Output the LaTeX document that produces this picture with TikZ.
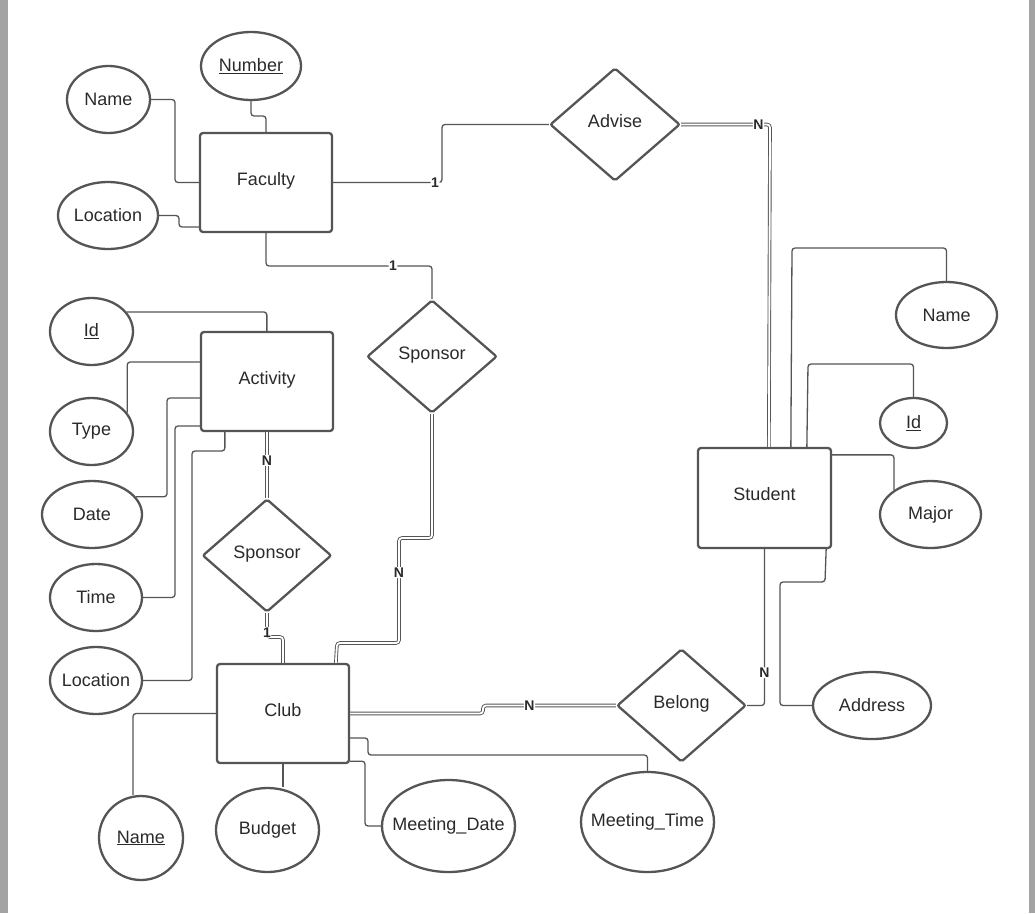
\documentclass[tikz,border=0pt]{standalone}
\usepackage{fontspec}
\setmainfont{Liberation Sans}
\usetikzlibrary{shapes.geometric}
\definecolor{ln}{HTML}{555555}
\definecolor{tx}{HTML}{2A2A2A}
\definecolor{edge}{HTML}{A3A3A3}
\begin{document}
\begin{tikzpicture}[x=1pt,y=-1pt,
 every node/.style={text=tx, font=\fontsize{18}{20}\selectfont},
 entity/.style={draw=ln, line width=2.3pt, rounded corners=3pt, minimum width=132pt, minimum height=99pt, inner sep=0pt, text height=13pt, text depth=8pt},
 rel/.style={diamond, draw=ln, line width=2.3pt, rounded corners=2pt, minimum width=130pt, minimum height=113pt, inner sep=0pt, text height=13pt, text depth=8pt},
 attr/.style={ellipse, draw=ln, line width=2.3pt, inner sep=0pt},
 wide/.style={inner xsep=-24pt},
 conn/.style={draw=ln, line width=1.3pt, rounded corners=3pt},
 dbl/.style={draw=ln, line width=0.9pt, double=white, double distance=1.8pt, rounded corners=3pt},
 card/.style={fill=white, inner sep=0.6pt, font=\bfseries\fontsize{14}{15}\selectfont}]
\useasboundingbox (0,0) rectangle (1035,913);
\fill[white] (0,0) rectangle (1035,913);
\fill[edge] (0,0) rectangle (8,913);
\fill[edge] (1029,0) rectangle (1035,913);

% entities
\node[entity] (fac) at (266,182.5) {Faculty};
\node[entity] (act) at (267,381.5) {Activity};
\node[entity] (club) at (283,713.5) {Club};
\node[entity, minimum width=133pt, minimum height=100pt] (stu) at (764.5,498) {Student};

% relationships
\node[rel] (adv) at (615,124.5) {Advise};
\node[rel] (spU) at (432,356.5) {Sponsor};
\node[rel, minimum width=129pt] (spL) at (267,555.5) {Sponsor};
\node[rel, minimum width=129pt] (bel) at (681.5,705.5) {Belong};

% attributes
\node[attr, wide, minimum width=100pt, minimum height=68pt] (num) at (251,66) {\underline{Number}};
\node[attr, minimum width=83pt, minimum height=67pt] (fname) at (108.5,99.5) {Name};
\node[attr, wide, minimum width=100pt, minimum height=67pt] (floc) at (108,215.5) {Location};
\node[attr, minimum width=83pt, minimum height=67pt] (aid) at (91.5,331.5) {\underline{Id}};
\node[attr, minimum width=83pt, minimum height=67pt] (atype) at (91.5,431.5) {Type};
\node[attr, minimum width=100pt, minimum height=67pt] (adate) at (92,514.5) {Date};
\node[attr, minimum width=92pt, minimum height=67pt] (atime) at (96,597.5) {Time};
\node[attr, wide, minimum width=92pt, minimum height=67pt] (aloc) at (96,680.5) {Location};
\node[attr, minimum width=84pt, minimum height=84pt] (cname) at (141,838) {\underline{Name}};
\node[attr, minimum width=103pt, minimum height=84pt] (cbud) at (267.5,830) {Budget};
\node[attr, wide, minimum width=133pt, minimum height=92pt] (cmd) at (448.5,826) {Meeting\_Date};
\node[attr, wide, minimum width=133pt, minimum height=100pt] (cmt) at (647.5,822) {Meeting\_Time};
\node[attr, wide, minimum width=118pt, minimum height=67pt] (saddr) at (872,705.5) {Address};
\node[attr, minimum width=101pt, minimum height=67pt] (smaj) at (930.5,514.5) {Major};
\node[attr, minimum width=101pt, minimum height=66pt] (sname) at (946.5,315) {Name};
\node[attr, minimum width=67pt, minimum height=50pt] (sid) at (913.5,423) {\underline{Id}};

% Faculty attributes
\draw[conn] (num.south) -- (251,116) -| (fac.north);
\draw[conn] (fname.east) -| (175,182.5) -- (fac.west);
\draw[conn] (floc.east) -| (179,227) -- ([yshift=-44.5pt]fac.west);

% Faculty relationships
\draw[conn] (fac.east) -- node[card,pos=0.936]{1} (442,182.5) |- (adv.west);
\draw[conn] (fac.south) -- (266,266) -- node[card,pos=0.765]{1} (432,266) -- (spU.north);
\draw[dbl] (adv.east) -- node[card,pos=0.87]{N} (770,124.5) -- ([xshift=72pt]stu.north west);

% Student attributes
\draw[conn] (sname.north) |- (792,248) -- ([xshift=94pt]stu.north west);
\draw[conn] (sid.north) |- (808,364) -- ([xshift=110pt]stu.north west);
\draw[conn] ([yshift=-8pt]stu.north east) -| (smaj.north west);
\draw[conn] ([xshift=-6pt]stu.south east) -- (825,582) -- (780,582) |- (saddr.west);
\draw[conn] (stu.south) -- node[card,pos=0.79]{N} (764.5,705.5) -- (bel.east);

% Activity attributes
\draw[conn] (aid.29) -| ([xshift=67pt]act.north west);
\draw[conn] (atype.28) |- ([yshift=19.5pt]act.west);
\draw[conn] (adate.22) -| (167,398) -- ([yshift=-16.5pt]act.west);
\draw[conn] (atime.east) -| (175,426) -- ([yshift=-44.5pt]act.west);
\draw[conn] (aloc.east) -| (192,451) -| ([xshift=25pt]act.south west);

% Activity / Club relationships
\draw[dbl] (act.south) -- node[card,pos=0.43]{N} (spL.north);
\draw[dbl] (spL.south) -- node[card,pos=0.8]{1} (267,637) -| (club.north);
\draw[dbl] (spU.south) -- (432,538) -- (399,538) -- node[card,pos=0.33]{N} (399,643) -- (337,643) -- ([xshift=120pt]club.north west);
\draw[dbl] (club.east) -- (483,713.5) -- (483,705.5) -- node[card,pos=0.35]{N} (bel.west);

% Club attributes
\draw[conn] ([yshift=-24.5pt]club.east) -| (368,755) -| (cmt.north);
\draw[conn] ([yshift=3pt]club.south east) -| (365,826) -- (cmd.west);
\draw[conn] (club.south) -- (club.south |- cbud.north);
\draw[conn] (club.west) -| ([xshift=-8pt]cname.north);
\end{tikzpicture}
\end{document}
